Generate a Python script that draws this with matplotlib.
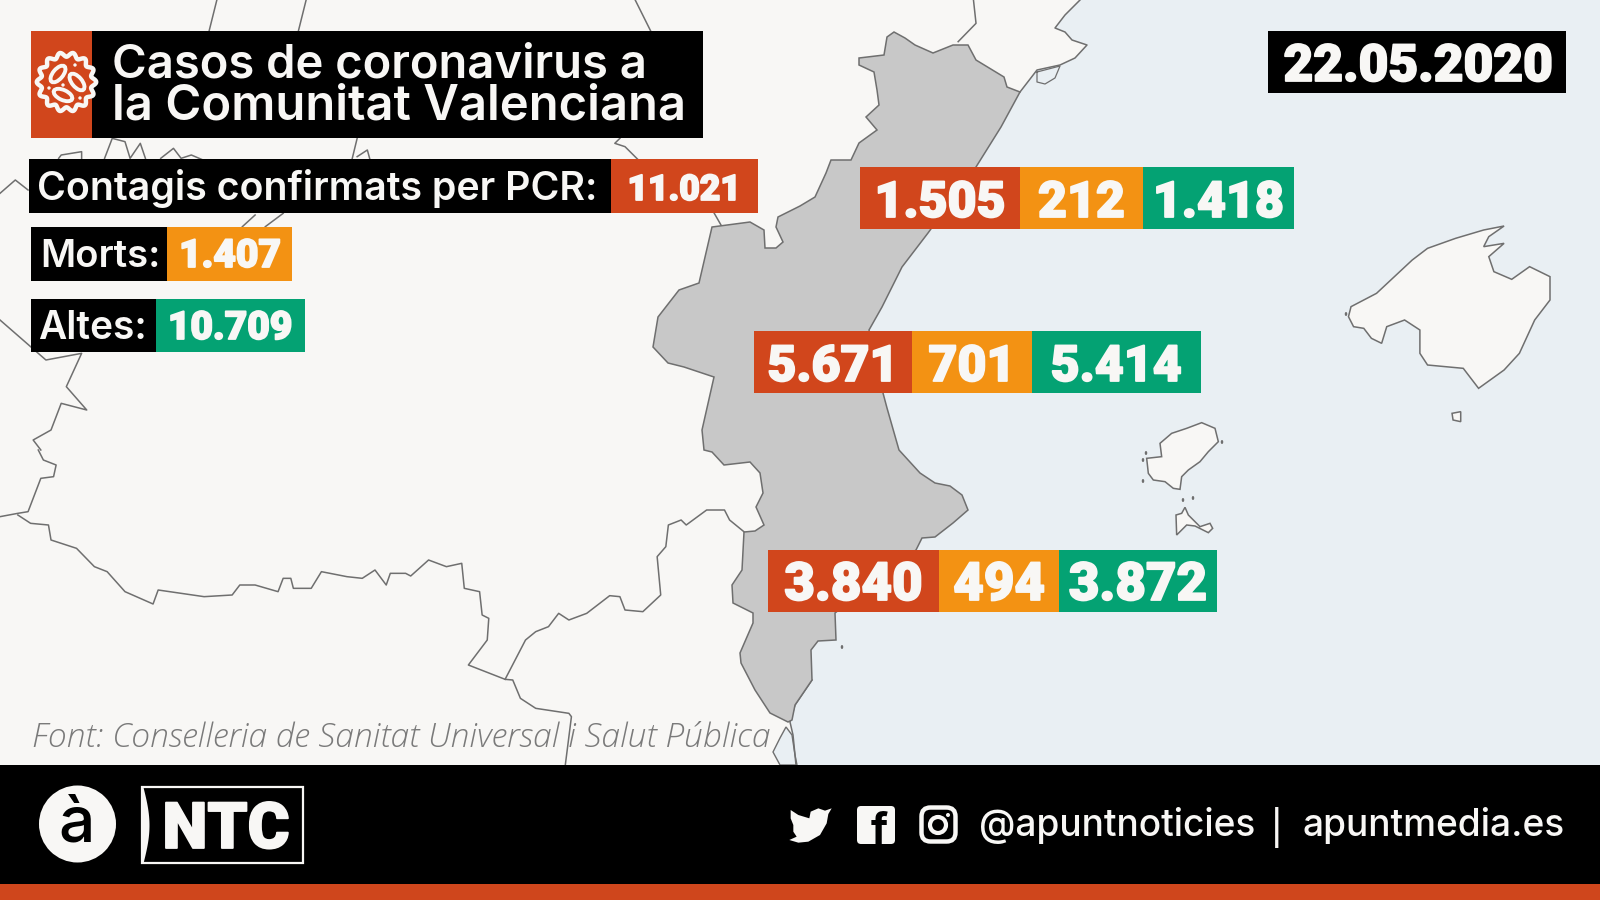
import matplotlib
matplotlib.use("Agg")
import numpy as np
import matplotlib.pyplot as plt
import matplotlib.patheffects as pe
from matplotlib.patches import Polygon, Rectangle, Circle, Ellipse, FancyBboxPatch

# figures
date_label = "22.05.2020"
title_lines = ["Casos de coronavirus a", "la Comunitat Valenciana"]
total_labels = ["Contagis confirmats per PCR:", "Morts:", "Altes:"]
total_values = [11021, 1407, 10709]
confirmed = [1505, 5671, 3840]
deaths = [212, 701, 494]
recovered = [1418, 5414, 3872]
source_text = "Font: Conselleria de Sanitat Universal i Salut Pública"
handle_text = "@apuntnoticies"
site_text = "apuntmedia.es"

ORANGE_RED = "#d1461c"
AMBER = "#f39213"
GREEN = "#04a273"
LAND = "#f8f7f5"
SEA = "#e9eff3"
REGION = "#c8c8c8"
BORDER = "#6f6f6f"
WHITE = "#f8f7f5"

region_outline = [
    (894, 32), (905, 38), (915, 45), (933, 53), (953, 45), (968, 45), (976, 60), (1004, 77), (1007, 87), (1020, 92),
    (1001, 127), (976, 167), (952, 200), (928, 233), (902, 267), (882, 307), (869, 330), (883, 393), (887, 408),
    (899, 450), (920, 473), (935, 483), (950, 486), (962, 495), (968, 510), (953, 523), (935, 537), (922, 538),
    (916, 550), (835, 613), (836, 640), (818, 641), (811, 650), (812, 680), (795, 705), (792, 720), (788, 722),
    (770, 713), (755, 690), (741, 663), (740, 653), (753, 623), (753, 613), (733, 603), (732, 585), (742, 570),
    (744, 532), (755, 531), (764, 525), (756, 507), (763, 493), (760, 473), (750, 462), (724, 465), (712, 452),
    (704, 450), (702, 430), (714, 377), (684, 367), (668, 363), (653, 347), (658, 317), (679, 290), (699, 283),
    (712, 227), (750, 222), (764, 230), (765, 248), (776, 248), (783, 242), (776, 227), (778, 217), (800, 206),
    (815, 197), (826, 173), (831, 160), (851, 160), (859, 143), (877, 130), (866, 117), (879, 105), (877, 90),
    (874, 72), (859, 65), (859, 58), (884, 55), (887, 37),
]
north_coast = [(1080, 0), (1065, 15), (1055, 28), (1065, 32), (1072, 40), (1087, 45), (1075, 58), (1060, 65),
               (1037, 70), (1020, 92)]
delta_lagoon = [(1037, 72), (1060, 66), (1055, 78), (1045, 84), (1037, 82)]
murcia_coast = [(812, 680), (795, 705), (790, 722), (793, 735), (796, 765)]
mar_menor = [(786, 727), (792, 735), (795, 755), (797, 765), (780, 765), (773, 752), (780, 738)]
mallorca = [(1080, 920), (1130, 880), (1200, 780), (1230, 745), (1285, 715), (1340, 690), (1380, 678), (1350, 710),
            (1340, 740), (1380, 730), (1350, 770), (1360, 815), (1395, 838), (1430, 800), (1470, 830), (1470, 900),
            (1440, 960), (1410, 1060), (1380, 1110), (1330, 1165), (1300, 1105), (1230, 1095), (1215, 1060),
            (1215, 990), (1185, 960), (1150, 980), (1140, 1030), (1120, 1015), (1105, 985), (1085, 980), (1075, 950)]
cabrera = [(1278, 1240), (1295, 1235), (1295, 1265), (1280, 1260)]
ibiza = [(80, 145), (125, 140), (120, 100), (155, 70), (200, 55), (245, 38), (285, 55), (295, 95), (265, 125),
         (240, 155), (205, 180), (185, 200), (180, 238), (160, 235), (135, 215), (100, 210), (85, 190)]
formentera = [(195, 292), (205, 315), (240, 350), (270, 340), (278, 355), (265, 368), (225, 348), (200, 345),
              (170, 375), (168, 315), (185, 310)]
islets = [(1146, 453), (1143, 460), (1143, 481), (1183, 500), (1193, 498), (1346, 314), (1222, 442), (842, 647)]
south_border = [(35, 195), (60, 220), (95, 225), (100, 270), (150, 295), (185, 350), (210, 365), (245, 425), (300, 462),
                (310, 420), (400, 440), (455, 435), (470, 405), (500, 405), (545, 425), (555, 385), (570, 385),
                (575, 415), (610, 415), (630, 365), (680, 380), (710, 385), (735, 360), (757, 405), (765, 370),
                (795, 370), (805, 378), (840, 330), (875, 350), (905, 340), (910, 415), (940, 425), (945, 495),
                (958, 505), (955, 570), (918, 645), (990, 688), (1005, 690), (1020, 745), (1050, 775), (1115, 790),
                (1120, 800), (1108, 945)]
murcia_border = [(990, 688), (1030, 570), (1050, 545), (1075, 530), (1095, 490), (1115, 510), (1150, 490), (1195, 437),
                 (1215, 440), (1225, 480), (1260, 485), (1295, 435), (1288, 320), (1305, 290), (1310, 225), (1335, 210),
                 (1345, 225), (1385, 180), (1420, 180), (1430, 210), (1458, 245)]
west_border_low = [(75, 0), (85, 30), (110, 45), (105, 80), (80, 85), (55, 185), (35, 190), (0, 200)]
west_border_up = [(0, 960), (60, 1040), (90, 1080), (160, 1060), (130, 1160), (170, 1230), (120, 1210), (100, 1290),
                  (65, 1320), (80, 1350)]
north_stubs = [
    [(425, 0), (410, 92)], [(600, 0), (585, 92)], [(1245, 0), (1275, 92)],
    [(115, 475), (120, 465), (160, 455), (160, 475)], [(205, 475), (220, 415), (245, 425), (255, 475), (275, 430), (285, 475)],
    [(315, 475), (340, 445), (355, 475), (375, 465), (395, 478)], [(690, 478), (700, 415)], [(700, 470), (720, 450), (725, 478)],
    [(1215, 415), (1205, 430), (1225, 440), (1250, 478)], [(0, 580), (30, 540), (55, 570)],
    [(475, 680), (500, 645)], [(520, 680), (555, 640)], [(1400, 640), (1415, 680)],
]
pyrenees_stub = [(340, 0), (345, 70), (310, 125)]


def from_crop(points, left=0, top=0):
    return [(left + x / 1.96, top + y / 3) for x, y in points]


def from_square_crop(points, left, top):
    return [(left + x / 3, top + y / 3) for x, y in points]


def thousands(value):
    return f"{value:,}".replace(",", ".")


def box(ax, x0, x1, y0, y1, color, z=5):
    ax.add_patch(Rectangle((x0, y0), x1 - x0, y1 - y0, fc=color, ec="none", zorder=z))


def line(ax, points, z=2, lw=1.1):
    xs, ys = zip(*points)
    ax.plot(xs, ys, color=BORDER, lw=lw, zorder=z, solid_joinstyle="round")


def heavy_text(ax, x, y, label, size, z=7):
    # Roboto stops at bold here, the stroke brings it near the weight of the original
    ax.text(x, y, label, color=WHITE, fontsize=size, family="Roboto", weight="black", ha="center", va="baseline",
            zorder=z, path_effects=[pe.withStroke(linewidth=1.3, foreground=WHITE)])


fig = plt.figure(figsize=(16, 9), dpi=100, facecolor=LAND)
ax = fig.add_axes([0, 0, 1, 1])
ax.set_xlim(0, 1600)
ax.set_ylim(900, 0)
ax.axis("off")

# map
sea_edge = north_coast + [p for p in region_outline[10:34]] + murcia_coast
ax.add_patch(Polygon(sea_edge + [(1600, 765), (1600, 0)], fc=SEA, ec="none", zorder=1))
ax.add_patch(Polygon(mar_menor, fc=SEA, ec=BORDER, lw=1, zorder=2))
line(ax, north_coast)
line(ax, delta_lagoon + delta_lagoon[:1], lw=0.9)
line(ax, murcia_coast)
ax.add_patch(Polygon(region_outline, fc=REGION, ec=BORDER, lw=1.1, zorder=3))

for shape in [from_crop(mallorca, 800), from_crop(cabrera, 800),
              from_square_crop(ibiza, 1120, 410), from_square_crop(formentera, 1120, 410)]:
    ax.add_patch(Polygon(shape, fc=LAND, ec=BORDER, lw=1.1, zorder=2))
for cx, cy in islets:
    ax.add_patch(Ellipse((cx, cy), 2.5, 4, fc=BORDER, ec="none", zorder=2))

line(ax, from_crop(south_border, 0, 450))
line(ax, from_crop(murcia_border, 0, 450))
line(ax, from_crop(west_border_low, 0, 450))
line(ax, from_crop(west_border_up))
line(ax, from_crop(pyrenees_stub, 800))
for stub in north_stubs:
    line(ax, from_crop(stub))

# title block
box(ax, 30.6, 703, 30.7, 138, "black")
box(ax, 30.6, 91.5, 30.7, 138, ORANGE_RED, 6)
ax.text(112, 77, title_lines[0], color=WHITE, fontsize=34, family="Inter", weight="semibold", va="baseline", zorder=7)
ax.text(112, 120, title_lines[1], color=WHITE, fontsize=35.3, family="Inter", weight="semibold", va="baseline", zorder=7)

# virus icon, a wavy ring with three cells
angles = np.linspace(0, 2 * np.pi, 281)
radius = 27.5 + 2.2 * np.cos(14 * angles)
ring = np.column_stack([66.5 + radius * np.cos(angles), 82 + radius * np.sin(angles)])
ax.add_patch(Polygon(ring, fc=ORANGE_RED, ec=WHITE, lw=3.2, zorder=8))
for cx, cy, ang in [(58, 74, -50), (77, 82, 50), (63, 95, 25)]:
    ax.add_patch(Ellipse((cx, cy), 20, 10, angle=ang, fc=ORANGE_RED, ec=WHITE, lw=2.8, zorder=9))
for cx, cy in [(75, 65), (63, 85), (49, 88), (80, 98)]:
    ax.add_patch(Circle((cx, cy), 1.7, fc=WHITE, ec="none", zorder=9))

# totals
total_rows = [(28.6, 611, 757.5, 158.7, 213, 200, ORANGE_RED, 37, 684, 28.3, 25.5),
              (30.6, 167, 292, 227, 281, 267, AMBER, 40, 230, 27.5, 28),
              (30.6, 156, 305, 298.7, 352, 339, GREEN, 38, 230, 28, 28)]
for (x0, x1, x2, y0, y1, base, color, tx, nx, size, nsize), label, value in zip(total_rows, total_labels, total_values):
    box(ax, x0, x1, y0, y1, "black")
    box(ax, x1, x2, y0, y1, color)
    ax.text(tx, base, label, color=WHITE, fontsize=size, family="Inter", weight="semibold", va="baseline", zorder=7)
    heavy_text(ax, nx, base, thousands(value), nsize)

# date
box(ax, 1268, 1566, 30.7, 92.5, "black")
heavy_text(ax, 1418, 81, date_label, 37)

# provinces
row_edges = [(860, 1020, 1143, 1294), (754, 912, 1032, 1200.5), (768, 939, 1059, 1217)]
row_tops = [167, 331, 550]
row_sizes = [36, 36, 38]
for edges, top, size, a, b, c in zip(row_edges, row_tops, row_sizes, confirmed, deaths, recovered):
    for i, (value, color) in enumerate(zip([a, b, c], [ORANGE_RED, AMBER, GREEN])):
        box(ax, edges[i], edges[i + 1], top, top + 62, color)
        heavy_text(ax, (edges[i] + edges[i + 1]) / 2, top + 50, thousands(value), size)

# source
ax.text(32, 747, source_text, color="#7a7a7a", fontsize=24.2, family="Open Sans", style="italic", weight="light",
        va="baseline", zorder=7)

# footer
box(ax, 0, 1600, 765, 884, "black", 10)
box(ax, 0, 1600, 884, 900, "#cf461c", 10)
ax.add_patch(Circle((77.5, 824), 38.5, fc=WHITE, ec="none", zorder=11))
ax.text(77, 841, "à", color="black", fontsize=46, family="Inter", weight="medium", ha="center", va="baseline", zorder=12)
ax.add_patch(Rectangle((142, 787), 161, 76, fc="black", ec=WHITE, lw=1.6, zorder=11))
curve_y = np.linspace(787, 863, 30)
curve_x = 143 + 6 * np.sin((curve_y - 787) / 76 * np.pi)
ax.fill_betweenx(curve_y, 141, curve_x, color=WHITE, lw=0, zorder=12)
heavy_text(ax, 226, 848, "NTC", 46, z=12)

# social icons
twitter = [(62, 60), (85, 75), (118, 85), (122, 65), (145, 55), (165, 62), (185, 55), (175, 72), (170, 100), (150, 135),
           (115, 155), (85, 158), (58, 150), (80, 140), (70, 125), (70, 105), (62, 85)]
ax.add_patch(Polygon(from_square_crop(twitter, 770, 790), fc=WHITE, ec="none", zorder=12))
ax.add_patch(FancyBboxPatch((857, 806), 38, 38, boxstyle="round,pad=0,rounding_size=4", fc=WHITE, ec="none", zorder=12))
ax.text(879, 844, "f", color="black", fontsize=31, family="Inter", weight="bold", ha="center", va="baseline", zorder=13)
ax.add_patch(FancyBboxPatch((921.5, 807.5), 34, 34, boxstyle="round,pad=0,rounding_size=9", fc="black", ec=WHITE, lw=3.2,
                            zorder=12))
ax.add_patch(Circle((938, 825), 8, fc="black", ec=WHITE, lw=3, zorder=13))
ax.add_patch(Circle((948, 815), 2, fc=WHITE, ec="none", zorder=13))
ax.text(979, 836.5, handle_text, color=WHITE, fontsize=26.7, family="Inter", weight="medium", va="baseline", zorder=12)
ax.text(1277, 840, "|", color=WHITE, fontsize=24, family="Inter", weight="medium", ha="center", va="baseline", zorder=12)
ax.text(1302, 836.5, site_text, color=WHITE, fontsize=26.7, family="Inter", weight="medium", va="baseline", zorder=12)

fig.savefig("out.png", dpi=100)
